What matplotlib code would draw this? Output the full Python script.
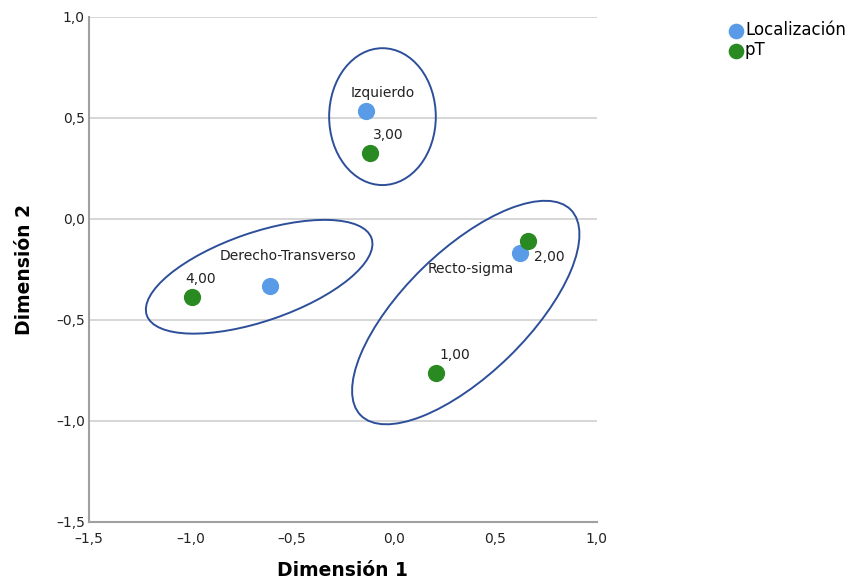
import matplotlib.pyplot as plt
from matplotlib.patches import Ellipse

# category points (Localización)
loc_names = ["Izquierdo", "Derecho-Transverso", "Recto-sigma"]
loc_x = [-0.138, -0.608, 0.621]
loc_y = [0.535, -0.333, -0.171]

# category points (pT)
pt_names = ["3,00", "4,00", "2,00", "1,00"]
pt_x = [-0.117, -0.992, 0.659, 0.209]
pt_y = [0.327, -0.386, -0.110, -0.765]

# groups drawn as ellipses: centre x, centre y, width, height, angle
ell_cx = [-0.055, -0.662, 0.355]
ell_cy = [0.505, -0.287, -0.464]
ell_w = [0.525, 1.17, 1.45]
ell_h = [0.677, 0.438, 0.61]
ell_ang = [0, 19, 44.5]

ticks = [-1.5, -1.0, -0.5, 0.0, 0.5, 1.0]
tick_labels = ["–1,5", "–1,0", "–0,5", "0,0", "0,5", "1,0"]

BLUE = "#5A9BE8"
GREEN = "#2A8A22"
RING = "#2D4F9A"

fig = plt.figure(figsize=(8.55, 5.85), dpi=100)
ax = fig.add_axes([0.104, 0.1077, 0.594, 0.864])

for y in ticks[1:]:
    ax.axhline(y, color="#d0d0d0", linewidth=1.2, zorder=0)

for cx, cy, w, h, a in zip(ell_cx, ell_cy, ell_w, ell_h, ell_ang):
    ax.add_patch(Ellipse((cx, cy), w, h, angle=a, fill=False,
                         edgecolor=RING, linewidth=1.4, zorder=2))

ax.scatter(loc_x, loc_y, s=130, color=BLUE, zorder=4, label="Localización")
ax.scatter(pt_x, pt_y, s=130, color=GREEN, zorder=4, label="pT")

# label offsets in pixels (dx right, dy up)
loc_off = [(17, 18), (18, 30), (-49, -16)]
pt_off = [(18, 18), (9, 18), (22, -16), (19, 18)]
for names, xs, ys, offs in [(loc_names, loc_x, loc_y, loc_off),
                            (pt_names, pt_x, pt_y, pt_off)]:
    for n, x, y, (dx, dy) in zip(names, xs, ys, offs):
        ax.annotate(n, (x, y), xytext=(dx * 0.72, dy * 0.72),
                    textcoords="offset points", ha="center", va="center",
                    fontsize=10, color="#222222", zorder=5)

ax.set_xlim(-1.5, 1.0)
ax.set_ylim(-1.5, 1.0)
ax.set_xticks(ticks)
ax.set_xticklabels(tick_labels)
ax.set_yticks(ticks)
ax.set_yticklabels(tick_labels)
ax.tick_params(length=0, labelsize=10, colors="#222222", pad=3)
ax.tick_params(axis="x", pad=7)
for s in ["top", "right"]:
    ax.spines[s].set_visible(False)
for s in ["left", "bottom"]:
    ax.spines[s].set_color("#a0a0a0")
    ax.spines[s].set_linewidth(1.5)

ax.set_xlabel("Dimensión 1", fontsize=13.5, fontweight="bold", labelpad=11)
ax.set_ylabel("Dimensión 2", fontsize=13.5, fontweight="bold", labelpad=16)

fig.legend(loc="upper left", bbox_to_anchor=(0.843, 0.975), frameon=False,
           fontsize=12, handletextpad=0.05, handlelength=1.0,
           labelspacing=0.1, borderaxespad=0, markerscale=0.9)

fig.savefig("out.png", dpi=100)
